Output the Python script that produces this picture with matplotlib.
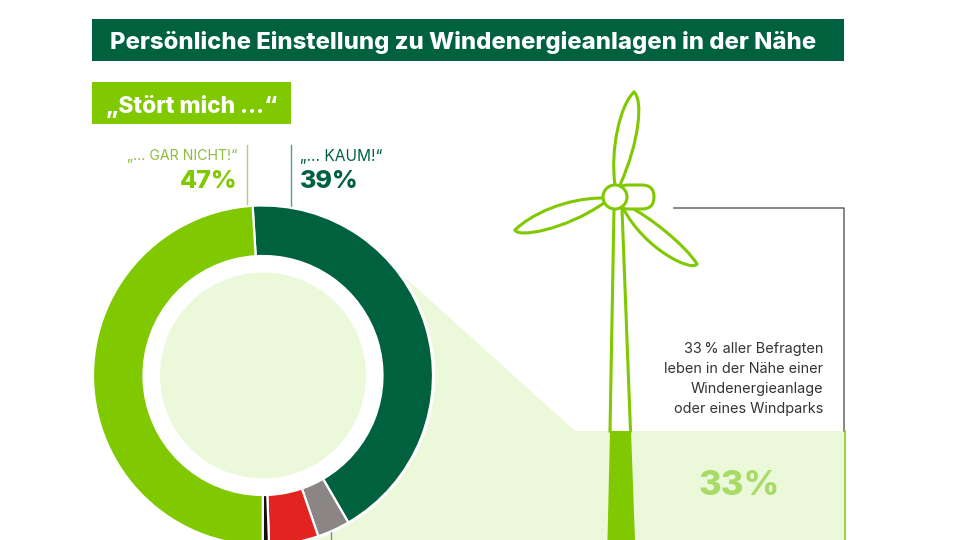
import matplotlib
matplotlib.use('Agg')
import matplotlib.pyplot as plt
from matplotlib.patches import Rectangle, Circle, Polygon, PathPatch, FancyBboxPatch
from matplotlib.path import Path

plt.rcParams['font.family'] = ['Inter', 'DejaVu Sans']

# shares as measured on the ring, clockwise from the top
categories = ['kaum', 'sonstige', 'rot', 'schwarz', 'gar nicht']
arc_shares = [42.6, 3.1, 4.7, 0.6, 49.0]
ring_colors = ['#00613f', '#8c8585', '#e2231f', '#111111', '#80c800']

label_gar_nicht = '47%'
label_kaum = '39%'
label_nahe = '33%'
title = 'Persönliche Einstellung zu Windenergieanlagen in der Nähe'
subtitle = '„Stört mich …“'
note_lines = ['33\u2009% aller Befragten', 'leben in der Nähe einer',
              'Windenergieanlage', 'oder eines Windparks']

DARK = '#00613f'
GREEN = '#80c800'
LIGHT = '#ebf8da'


def Y(py):
    # picture is measured from the top
    return 540 - py


def pts(lst):
    return [(x, Y(y)) for x, y in lst]


fig = plt.figure(figsize=(9.6, 5.4), dpi=100)
ax = fig.add_axes([0, 0, 1, 1])

# light green area behind ring and turbine
ax.add_patch(Polygon(pts([(390, 264), (575, 431), (844, 431), (844, 540), (300, 540)]),
                     closed=True, fc=LIGHT, ec='none', zorder=1))

# ring
ax.add_patch(Circle((263, Y(375.5)), 172, fc='white', ec='none', zorder=2))
ax.pie(arc_shares, colors=ring_colors, startangle=93.5, counterclock=False,
       radius=170, center=(263, Y(375.5)), frame=True,
       wedgeprops=dict(width=50.5, edgecolor='white', linewidth=1.6, zorder=3))
ax.add_patch(Circle((263, Y(375.5)), 103, fc=LIGHT, ec='none', zorder=4))

# header bars
ax.add_patch(Rectangle((92, Y(61)), 752, 42, fc=DARK, ec='none', zorder=2))
ax.text(110, Y(43), title, color='white', fontsize=17.15, fontweight='heavy', va='center', zorder=5)
ax.add_patch(Rectangle((92, Y(124)), 199, 42, fc=GREEN, ec='none', zorder=2))
ax.text(106, Y(107), subtitle, color='white', fontsize=16.4, fontweight='heavy', va='center', zorder=5)

# ring labels
ax.plot([247, 247], [Y(145), Y(207)], color='#a8d860', lw=1.0, zorder=2)
ax.plot([291, 291], [Y(145), Y(208)], color='#5c9a84', lw=1.0, zorder=2)
ax.plot([330.5, 330.5], [Y(531), Y(540)], color='#8c8585', lw=1.0, zorder=2)
ax.text(237, Y(156), '„… GAR NICHT!“', color='#8dbd3c', fontsize=10.2, ha='right', va='center')
ax.text(237, Y(182), label_gar_nicht, color=GREEN, fontsize=18, fontweight='heavy', ha='right', va='center')
ax.text(300, Y(156), '„… KAUM!“', color=DARK, fontsize=11.2, ha='left', va='center')
ax.text(300, Y(182), label_kaum, color=DARK, fontsize=18, fontweight='heavy', ha='left', va='center')

# turbine
lw = 2.2
ax.add_patch(Polygon(pts([(610, 431), (631, 431), (635, 540), (607.5, 540)]),
                     fc=GREEN, ec='none', zorder=3))
ax.plot([614, 610], [Y(209), Y(431)], color=GREEN, lw=lw, zorder=3)
ax.plot([622, 630.5], [Y(209), Y(431)], color=GREEN, lw=lw, zorder=3)

blades = [
    [(615, 185), (610, 150), (620, 105), (634, 92),
     (643, 100), (640, 140), (620, 185)],
    [(603, 198), (565, 198), (530, 215), (515, 230),
     (518, 238), (565, 230), (604, 203)],
    [(628, 206), (650, 217), (685, 245), (697, 264),
     (692, 272), (645, 250), (623, 208)],
]
codes = [Path.MOVETO, Path.CURVE4, Path.CURVE4, Path.CURVE4,
         Path.CURVE4, Path.CURVE4, Path.CURVE4]
for blade in blades:
    ax.add_patch(PathPatch(Path(pts(blade), codes), fc='white', ec=GREEN, lw=lw, zorder=4))

ax.add_patch(FancyBboxPatch((616, Y(209)), 50 - 12, 24, boxstyle='round,pad=0,rounding_size=12',
                            fc='white', ec=GREEN, lw=lw, zorder=4, mutation_aspect=1))
ax.add_patch(Circle((615, Y(197)), 12, fc='white', ec=GREEN, lw=lw, zorder=5))

# frame around the note
ax.plot([674, 844, 844], [Y(208), Y(208), Y(431)], color='#666666', lw=1.1, zorder=2)
ax.plot([844.5, 844.5], [Y(431), Y(540)], color=GREEN, lw=1.1, zorder=2)

for i, line in enumerate(note_lines):
    ax.text(823, Y(348.5 + 20.2 * i), line, color='#333333', fontsize=10.4, ha='right', va='center', zorder=5)
ax.text(739, Y(486), label_nahe, color='#a8da66', fontsize=25, fontweight='heavy', ha='center', va='center', zorder=5)

ax.set_xlim(0, 960)
ax.set_ylim(0, 540)
ax.set_aspect('equal')
ax.axis('off')
fig.savefig('out.png', dpi=100)
